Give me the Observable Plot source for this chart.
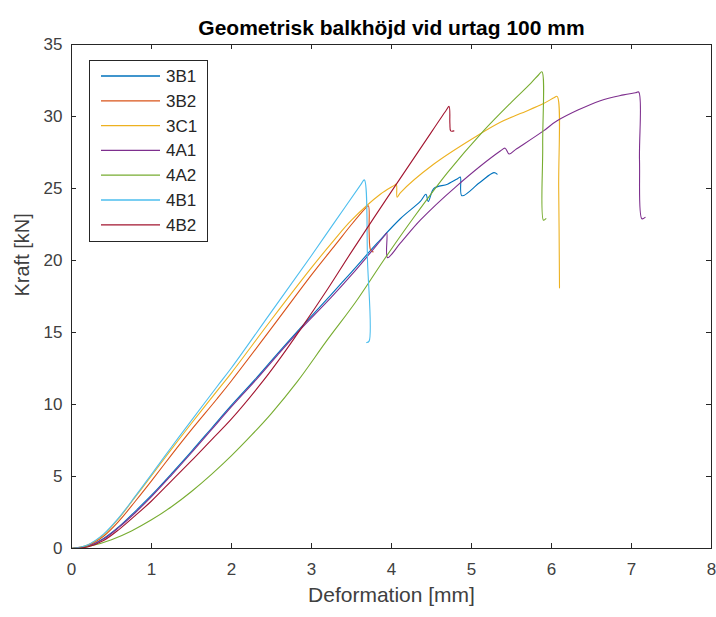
<!DOCTYPE html>
<html><head><meta charset="utf-8">
<script src="https://cdn.jsdelivr.net/npm/d3@7"></script>
<script src="https://cdn.jsdelivr.net/npm/@observablehq/plot@0.6"></script>
<style>body{margin:0;background:#fff} svg{display:block}</style>
</head><body><div id="chart"></div>
<script>
const title = "Geometrisk balkhöjd vid urtag 100 mm";
const xLabel = "Deformation [mm]";
const yLabel = "Kraft [kN]";
const seriesNames = ["3B1","3B2","3C1","4A1","4A2","4B1","4B2"];
const seriesColors = ["#0072BD","#D95319","#EDB120","#7E2F8E","#77AC30","#4DBEEE","#A2142F"];
const xTicks = [0,1,2,3,4,5,6,7,8];
const yTicks = [0,5,10,15,20,25,30,35];

const s3B1 = [[0,0],[0.2,0.15],[0.4,0.7],[0.6,1.55],[0.8,2.6],[1,3.7],[1.25,5.2],[1.5,6.75],[1.75,8.35],[2,9.95],[2.32,11.9],[2.57,13.5],[2.86,15.3],[3.24,17.6],[3.5,19.2],[3.82,21.2],[4.11,22.9],[4.36,24.1],[4.43,24.6],[4.46,24.1],[4.53,25.0],[4.7,25.3],[4.83,25.7],[4.86,25.8],[4.88,24.5],[5.1,25.4],[5.28,26.1],[5.32,26.0]];
const s3B2 = [[0,0],[0.2,0.2],[0.4,0.85],[0.6,1.95],[0.8,3.3],[1,4.7],[1.25,6.5],[1.5,8.25],[1.82,10.4],[2,11.65],[2.5,15.3],[3,19.0],[3.3,21.1],[3.5,22.5],[3.67,23.6],[3.71,23.8],[3.72,22.0],[3.74,20.7],[3.77,20.6]];
const s3C1 = [[0,0],[0.2,0.25],[0.4,0.95],[0.6,2.15],[0.8,3.6],[1,5.05],[1.25,6.9],[1.5,8.7],[1.82,10.95],[2,12.2],[2.5,15.9],[3,19.5],[3.28,21.4],[3.5,22.8],[3.86,24.6],[4.03,25.2],[4.06,25.3],[4.07,24.4],[4.11,24.7],[4.53,26.7],[5.11,28.8],[5.36,29.6],[5.61,30.2],[5.9,30.9],[6.03,31.3],[6.07,31.4],[6.09,25.0],[6.1,18.1]];
const s4A1 = [[0,0],[0.2,0.15],[0.4,0.65],[0.6,1.5],[0.8,2.5],[1,3.6],[1.25,5.1],[1.5,6.65],[1.75,8.25],[2,9.85],[2.32,11.8],[2.57,13.4],[2.86,15.2],[3.24,17.4],[3.5,19.0],[3.7,20.3],[3.91,21.7],[3.94,21.9],[3.95,20.2],[4.11,21.2],[4.36,22.8],[4.8,25.1],[5.36,27.6],[5.42,27.8],[5.47,27.4],[5.55,27.7],[5.9,29.0],[6.07,29.7],[6.61,31.1],[6.9,31.5],[7.05,31.65],[7.09,31.7],[7.1,27.0],[7.13,22.9],[7.17,23.0]];
const s4A2 = [[0,0],[0.25,0.19],[0.5,0.61],[0.75,1.22],[1,1.99],[1.25,2.9],[1.5,3.96],[1.75,5.15],[2,6.45],[2.25,7.87],[2.5,9.39],[2.82,11.57],[3.2,14.5],[3.55,17.1],[3.9,20.0],[4.28,23.0],[4.7,26.1],[5.15,29.0],[5.5,31.0],[5.74,32.3],[5.84,32.9],[5.88,33.1],[5.89,28.0],[5.9,22.8],[5.93,22.9]];
const s4B1 = [[0,0],[0.2,0.25],[0.4,1.0],[0.6,2.2],[0.8,3.65],[1,5.15],[1.25,7.05],[1.5,8.9],[1.82,11.25],[2,12.55],[2.5,16.45],[3,20.35],[3.3,22.75],[3.62,25.3],[3.66,25.6],[3.7,20.0],[3.72,14.4],[3.69,14.3]];
const s4B2 = [[0,0],[0.2,0.1],[0.4,0.55],[0.6,1.35],[0.8,2.3],[1,3.3],[1.25,4.7],[1.5,6.1],[1.75,7.55],[2,9.0],[2.39,11.6],[2.6,13.15],[2.86,15.2],[3.2,18.0],[3.5,20.6],[4,24.8],[4.4,28.1],[4.68,30.4],[4.72,30.7],[4.73,29.5],[4.74,29.0],[4.78,29.0]];

const seriesData = [s3B1, s3B2, s3C1, s4A1, s4A2, s4B1, s4B2];
const rows = seriesData.flatMap((arr, i) => arr.map(([x, y]) => ({series: seriesNames[i], x, y})));

const W = 716, H = 617, mL = 71, mR = 5, mT = 44, mB = 69;
const fw = W - mL - mR, fh = H - mT - mB;
const ink = "#262626";

function legendMark(index, scales) {
  const color = scales.color || d3.scaleOrdinal(seriesNames, seriesColors);
  const g = d3.create("svg:g").attr("text-anchor", "start");
  g.append("rect").attr("x", 89.5).attr("y", 60.5).attr("width", 118).attr("height", 181)
    .attr("fill", "white").attr("stroke", ink).attr("stroke-width", 1);
  seriesNames.forEach((s, i) => {
    const y = 76 + i * 24.8;
    g.append("line").attr("x1", 101).attr("x2", 160).attr("y1", y).attr("y2", y)
      .attr("stroke", color(s)).attr("stroke-width", 1.3);
    g.append("text").attr("x", 166).attr("y", y).attr("dy", "0.35em").attr("font-size", 17)
      .attr("text-anchor", "start").attr("fill", ink).text(s);
  });
  return g.node();
}

const chart = Plot.plot({
  width: W, height: H,
  marginLeft: mL, marginRight: mR, marginTop: mT, marginBottom: mB,
  style: {fontFamily: "'Liberation Sans', Arial, sans-serif", background: "white", color: ink},
  x: {domain: [0, 8]},
  y: {domain: [0, 35]},
  color: {domain: seriesNames, range: seriesColors},
  marks: [
    Plot.line(rows, {x: "x", y: "y", z: "series", stroke: "series", strokeWidth: 1.1, curve: "catmull-rom"}),
    Plot.frame({stroke: ink, strokeWidth: 1}),
    Plot.tickX(xTicks, {x: d => d, insetTop: fh - 5, stroke: ink}),
    Plot.tickX(xTicks, {x: d => d, insetBottom: fh - 5, stroke: ink}),
    Plot.tickY(yTicks, {y: d => d, insetRight: fw - 5, stroke: ink}),
    Plot.tickY(yTicks, {y: d => d, insetLeft: fw - 5, stroke: ink}),
    Plot.axisX({ticks: xTicks, tickSize: 0, tickPadding: 14, fontSize: 17, label: null, fill: "#404040"}),
    Plot.axisY({ticks: yTicks, tickSize: 0, tickPadding: 9, fontSize: 17, label: null, fill: "#404040"}),
    Plot.text([title], {frameAnchor: "top", dy: -24, fontSize: 21, fontWeight: "bold", fill: "#000", text: d => d}),
    Plot.text([xLabel], {frameAnchor: "bottom", dy: 53, fontSize: 21, fill: "#404040", text: d => d}),
    Plot.text([yLabel], {frameAnchor: "left", dx: -49, rotate: -90, fontSize: 20, fill: "#404040", text: d => d}),
    legendMark
  ]
});
document.getElementById("chart").append(chart);
</script>
</body></html>
